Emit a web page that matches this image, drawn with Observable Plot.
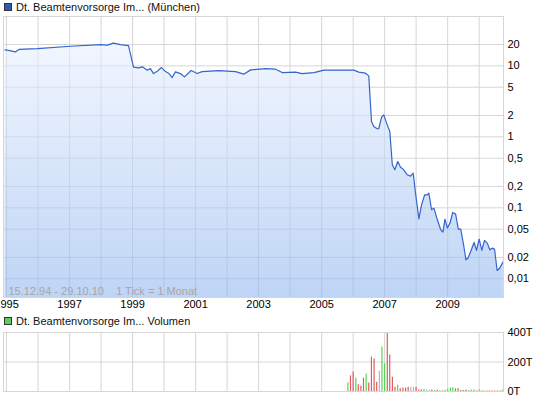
<!DOCTYPE html>
<html><head><meta charset="utf-8">
<script src="https://cdn.jsdelivr.net/npm/d3@7"></script>
<script src="https://cdn.jsdelivr.net/npm/@observablehq/plot@0.6"></script>
<style>
body{margin:0;background:#fff;font-family:"Liberation Sans",Arial,sans-serif;width:545px;height:401px;overflow:hidden;position:relative}
.t{position:absolute;left:16px;font-size:11px;color:#111;white-space:nowrap;line-height:12px}
.sq{position:absolute;left:4px;width:6px;height:6px;border:1px solid #333}
#p1,#p2{position:absolute;left:0}
</style></head><body>
<div id="p1" style="top:0"></div>
<div id="p2" style="top:320px"></div>
<div class="sq" style="top:3px;background:#2a5db0"></div>
<div class="t" style="top:1px">Dt. Beamtenvorsorge Im... (München)</div>
<div class="sq" style="top:317px;background:#5ccc5c"></div>
<div class="t" style="top:315px">Dt. Beamtenvorsorge Im... Volumen</div>
<script>
// ---- data ----
const priceDates = ["1994-12-15","1995-01-24","1995-04-13","1995-05-29","1995-12-25","1997-01-12","1997-12-25","1998-03-15","1998-05-24","1998-08-13","1998-11-15","1999-01-12","1999-03-10","1999-04-25","1999-06-22","1999-07-27","1999-09-01","1999-10-16","1999-12-02","2000-01-18","2000-02-22","2000-04-04","2000-05-12","2000-07-09","2000-08-25","2000-11-10","2001-01-20","2001-03-18","2001-09-25","2002-04-09","2002-07-13","2002-10-01","2003-03-22","2003-07-16","2003-10-02","2004-03-04","2004-05-20","2004-10-04","2005-01-28","2005-07-19","2006-01-10","2006-03-07","2006-05-24","2006-07-01","2006-08-02","2006-08-28","2006-10-06","2006-10-25","2006-11-27","2006-12-22","2007-01-24","2007-03-02","2007-03-31","2007-04-29","2007-06-03","2007-07-04","2007-08-04","2007-09-20","2007-10-28","2007-11-28","2007-12-25","2008-02-02","2008-03-04","2008-04-09","2008-05-10","2008-05-28","2008-06-28","2008-07-25","2008-09-03","2008-10-12","2008-11-07","2008-12-01","2008-12-28","2009-01-28","2009-03-01","2009-04-03","2009-05-04","2009-06-01","2009-07-01","2009-08-01","2009-08-25","2009-09-25","2009-11-03","2009-12-01","2010-01-01","2010-02-01","2010-03-04","2010-04-05","2010-05-04","2010-06-01","2010-06-28","2010-07-28","2010-08-28","2010-10-08"];
const priceValues = [16.8,16.5,15.7,17.1,17.5,18.9,19.95,19.6,20.9,19.95,19.3,9.6,9.37,9.68,8.7,9.16,7.79,8.42,9.46,8.31,7.89,6.84,8.23,7.79,7.0,8.6,7.79,8.31,8.58,8.31,7.64,8.78,9.16,8.98,8.05,8.15,7.79,8.05,8.7,8.7,8.7,8.15,7.89,7.23,1.64,1.40,1.30,1.30,1.89,2.04,1.56,1.19,0.404,0.343,0.449,0.374,0.351,0.292,0.280,0.308,0.161,0.070,0.110,0.152,0.152,0.161,0.094,0.099,0.0678,0.049,0.0455,0.0693,0.0518,0.061,0.086,0.0815,0.050,0.050,0.0318,0.0185,0.0196,0.0243,0.0325,0.0251,0.0362,0.0251,0.0347,0.0318,0.0256,0.027,0.0262,0.0131,0.0142,0.0175];
const volMonths = ["2005-11","2005-12","2006-01","2006-02","2006-03","2006-04","2006-05","2006-06","2006-07","2006-08","2006-09","2006-10","2006-11","2006-12","2007-01","2007-02","2007-03","2007-04","2007-05","2007-06","2007-07","2007-08","2007-09","2007-10","2007-11","2007-12","2008-01","2008-02","2008-03","2008-04","2008-05","2008-06","2008-07","2008-08","2008-09","2008-10","2008-11","2008-12","2009-01","2009-02","2009-03","2009-04","2009-05","2009-06","2009-07","2009-08","2009-09","2009-10","2009-11","2009-12","2010-01","2010-02","2010-03","2010-04","2010-05","2010-06","2010-07","2010-08","2010-09","2010-10"];
const volValues = [57,106,133,90,45,36,90,118,57,233,220,63,138,301,188,400,247,97,29,43,18,23,23,29,29,29,29,11,11,16,11,11,11,7,11,4,4,9,16,23,25,18,18,9,7,11,7,11,11,4,11,4,4,4,4,4,4,4,4,11];
const volDirection = ["up","down","down","up","down","down","down","up","down","down","down","down","flat","up","up","down","down","down","down","up","down","down","down","down","flat","flat","down","down","down","up","flat","flat","down","up","down","down","down","up","up","up","up","down","down","up","down","down","up","up","up","down","up","down","up","down","down","down","down","down","down","up"];
const priceTicks = [20,10,5,2,1,0.5,0.2,0.1,0.05,0.02,0.01];
const yearLabels = ["1995","1997","1999","2001","2003","2005","2007","2009"];
const yearGrid = ["1995","1996","1997","1998","1999","2000","2001","2002","2003","2004","2005","2006","2007","2008","2009","2010"];
const volTicks = [0,200,400];
const captionText = "15.12.94 - 29.10.10\u00a0\u00a0\u00a0 1 Tick = 1 Monat";
const xStart = "1994-11-27", xEnd = "2010-10-10";
const priceDomain = [0.00545, 49.6];

// ---- build ----
const pd = d3.utcParse("%Y-%m-%d"), pm = d3.utcParse("%Y-%m"), py = d3.utcParse("%Y");
const price = priceDates.map((d,i)=>({date: pd(d), price: priceValues[i]}));
const vol = volMonths.map((d,i)=>({date: pm(d), vol: volValues[i], dir: volDirection[i]}));
const gridDates = yearGrid.map(py);
const labelDates = yearLabels.map(py);
const xDomain = [pd(xStart), pd(xEnd)];
const gridColor = "#d6d6d6";
const font = {fontFamily: "'Liberation Sans', Arial, sans-serif", fontSize: "11px", color: "#000", background: "transparent"};
const fmtPrice = d => String(d).replace(".", ",");

const defs = () => {
  const d = d3.create("svg:defs");
  const g = d.append("linearGradient").attr("id","areaGrad").attr("x1",0).attr("y1",0).attr("x2",0).attr("y2",1);
  g.append("stop").attr("offset","0").attr("stop-color","#e8f0ff");
  g.append("stop").attr("offset","1").attr("stop-color","#90b6ee");
  return d.node();
};

const p1 = Plot.plot({
  width: 545, height: 312,
  marginTop: 16, marginBottom: 15, marginLeft: 3, marginRight: 42,
  style: font,
  x: {type: "utc", domain: xDomain, ticks: labelDates, tickFormat: d3.utcFormat("%Y"), tickSize: 0, tickPadding: 3, label: null},
  y: {type: "log", domain: priceDomain, axis: null},
  marks: [
    defs,
    Plot.ruleX(gridDates, {stroke: gridColor}),
    Plot.ruleY(priceTicks, {stroke: gridColor}),
    Plot.areaY(price, {x: "date", y1: () => priceDomain[0], y2: "price", fill: "url(#areaGrad)", fillOpacity: 0.58}),
    Plot.lineY(price, {x: "date", y: "price", stroke: "#3366cc", strokeWidth: 1.2}),
    Plot.text([captionText], {frameAnchor: "bottom-left", dx: 5, dy: -3, text: d => d, fill: "#a6a6a6", fontSize: 11}),
    Plot.frame({stroke: gridColor}),
    Plot.text(priceTicks, {y: d => d, frameAnchor: "right", dx: 4, textAnchor: "start", text: fmtPrice, fill: "#000", fontSize: 11})
  ]
});
document.getElementById("p1").appendChild(p1);

const p2 = Plot.plot({
  width: 545, height: 80,
  marginTop: 12, marginBottom: 9, marginLeft: 3, marginRight: 42,
  style: font,
  x: {type: "utc", domain: xDomain, axis: null},
  y: {domain: [0, 400], ticks: volTicks, tickFormat: d => d + "T", tickSize: 0, tickPadding: 4, axis: "right", label: null},
  color: {domain: ["down","up","flat"], range: ["#e05c5c","#55d655","#b8b8b8"]},
  marks: [
    Plot.ruleX(gridDates, {stroke: gridColor}),
    Plot.ruleY([200], {stroke: gridColor}),
    Plot.ruleX(vol, {x: "date", y: "vol", stroke: "dir", strokeWidth: 1.2}),
    Plot.frame({stroke: gridColor})
  ]
});
document.getElementById("p2").appendChild(p2);
</script>
</body></html>
